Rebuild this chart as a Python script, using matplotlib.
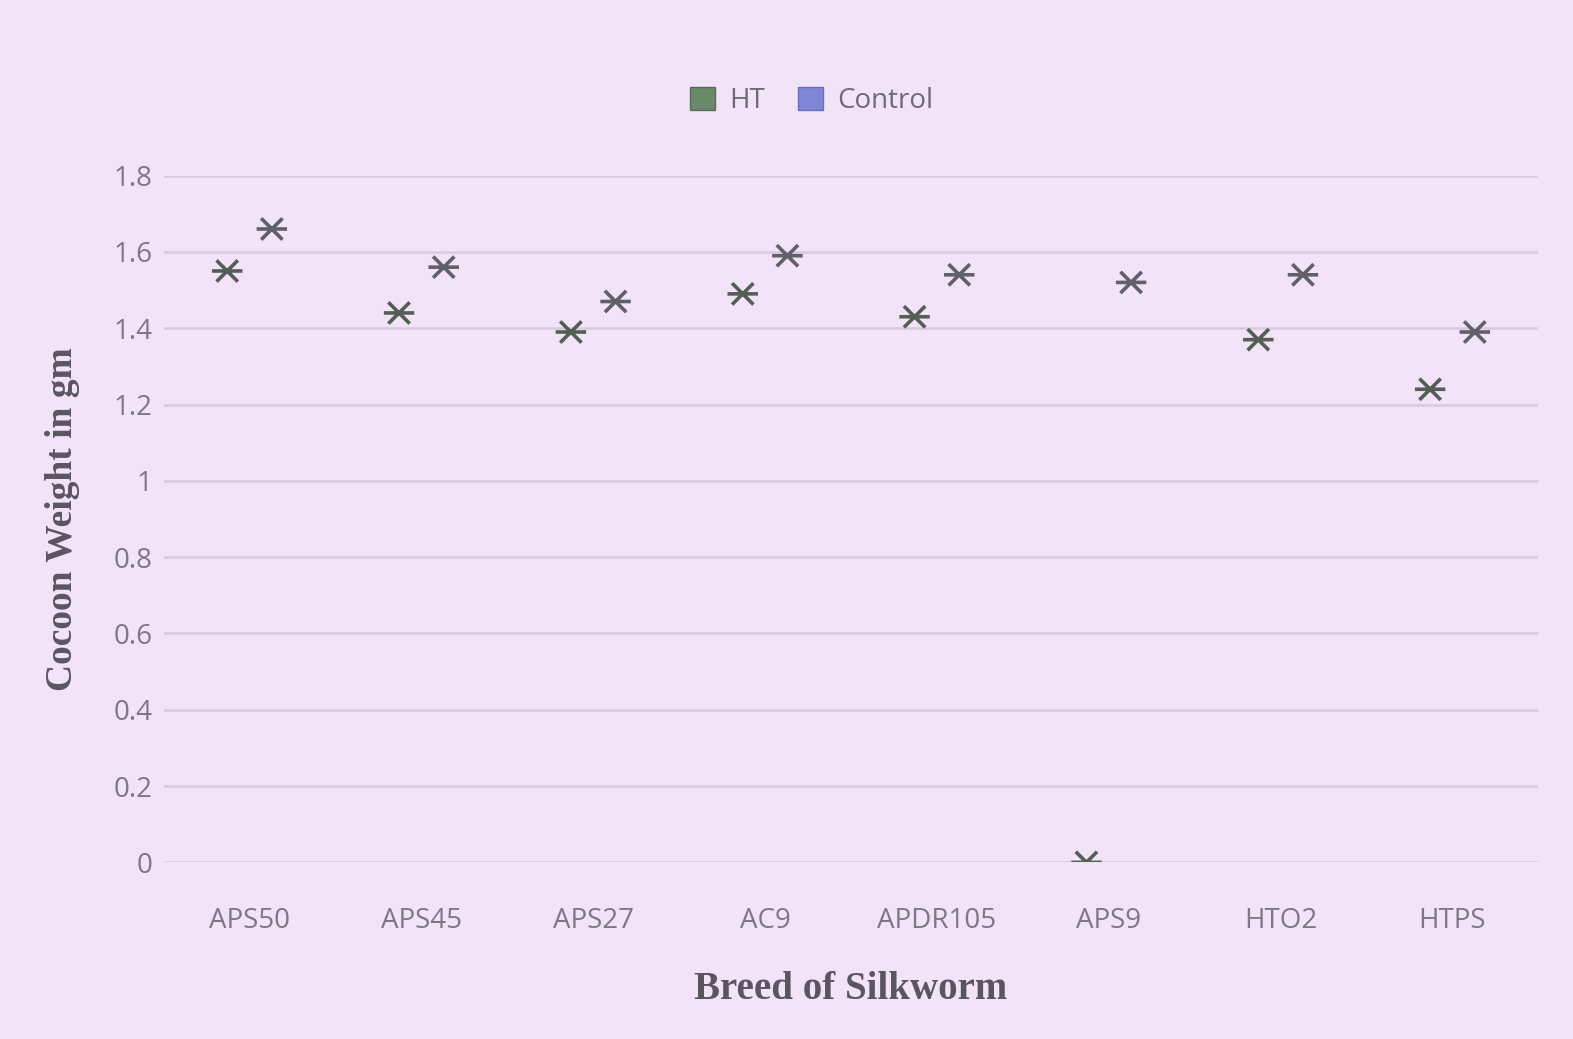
import matplotlib
matplotlib.use('Agg')
import matplotlib.pyplot as plt
import numpy as np
from matplotlib.path import Path
from matplotlib.patches import Patch

breeds = ['APS50', 'APS45', 'APS27', 'AC9', 'APDR105', 'APS9', 'HTO2', 'HTPS']
ht = [1.55, 1.44, 1.39, 1.49, 1.43, 0.0, 1.37, 1.24]
control = [1.66, 1.56, 1.47, 1.59, 1.54, 1.52, 1.54, 1.39]
yticks = [0, 0.2, 0.4, 0.6, 0.8, 1, 1.2, 1.4, 1.6, 1.8]

bg = '#f3e3f9'
tick_col = '#7d7883'

# star marker: an X crossed by a horizontal bar
star = Path(
    [(-0.7, -0.7), (0.7, 0.7), (-0.7, 0.7), (0.7, -0.7), (-1.0, 0.0), (1.0, 0.0)],
    [Path.MOVETO, Path.LINETO, Path.MOVETO, Path.LINETO, Path.MOVETO, Path.LINETO],
)

fig = plt.figure(figsize=(15.73, 10.39), dpi=100, facecolor=bg)
ax = fig.add_axes([0.104, 0.170, 0.874, 0.661])
ax.set_facecolor(bg)

x = np.arange(len(breeds))
ax.scatter(x - 0.13, ht, marker=star, s=480, facecolor='none',
           edgecolor='#535e55', linewidths=2.6, zorder=3, clip_on=True)
ax.scatter(x + 0.13, control, marker=star, s=480, facecolor='none',
           edgecolor='#615f68', linewidths=2.6, zorder=3, clip_on=True)

ax.set_xlim(-0.5, len(breeds) - 0.5)
ax.set_ylim(0, 1.8)
ax.set_yticks(yticks)
ax.set_yticklabels([('%g' % v) for v in yticks])
ax.set_xticks(x)
ax.set_xticklabels(breeds)
ax.grid(axis='y', color='#d6cbdf', linewidth=1.8)
ax.set_axisbelow(True)
for s in ax.spines.values():
    s.set_visible(False)
ax.tick_params(length=0, labelsize=20, colors=tick_col)
ax.tick_params(axis='x', pad=32)
ax.tick_params(axis='y', pad=8)
for lab in ax.get_xticklabels() + ax.get_yticklabels():
    lab.set_family('Open Sans')

ax.set_xlabel('Breed of Silkworm', family='Liberation Serif', fontweight='bold',
              fontsize=28, color='#5a5560', labelpad=26)
ax.set_ylabel('Cocoon Weight in gm', family='Liberation Serif', fontweight='bold',
              fontsize=27, color='#5a5560', labelpad=24)

handles = [Patch(facecolor='#6b8a6b', edgecolor='#5a6a5a', label='HT'),
           Patch(facecolor='#7f86d8', edgecolor='#6a70b0', label='Control')]
leg = fig.legend(handles=handles, loc='center', bbox_to_anchor=(0.516, 0.903),
                 ncol=2, frameon=False, handlelength=0.9, handleheight=0.9,
                 handletextpad=0.5, columnspacing=1.2,
                 prop={'family': 'Open Sans', 'size': 20})
for t in leg.get_texts():
    t.set_color('#6f6b75')

fig.savefig('out.png', dpi=100, facecolor=bg)
